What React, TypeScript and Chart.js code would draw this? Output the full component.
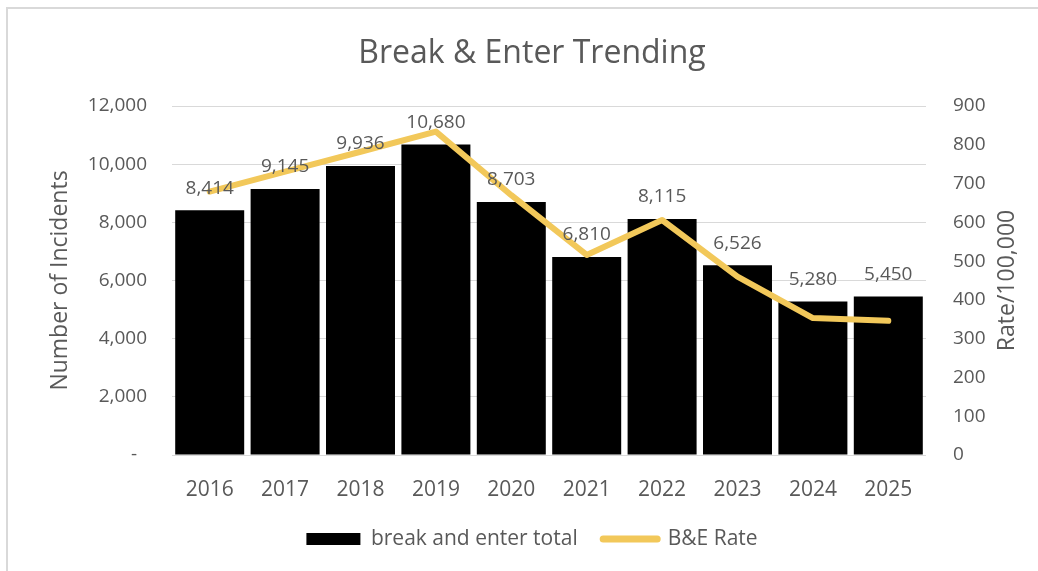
import { useEffect, useRef } from 'react';
import { Chart, registerables } from 'chart.js';

Chart.register(...registerables);

const years = ['2016', '2017', '2018', '2019', '2020', '2021', '2022', '2023', '2024', '2025'];
const incidents = [8414, 9145, 9936, 10680, 8703, 6810, 8115, 6526, 5280, 5450];
const rates = [679, 731, 782, 834, 670, 516, 606, 460, 353, 346];

const chartTitle = 'Break & Enter Trending';
const leftTitle = 'Number of Incidents';
const rightTitle = 'Rate/100,000';
const barLabel = 'break and enter total';
const lineLabel = 'B&E Rate';

const FONT = "'Open Sans', sans-serif";
const TEXT = '#595959';
const GOLD = '#F2C85A';
const GRID = '#d9d9d9';

const fmt = (v: number) => v.toLocaleString('en-US');

const framePlugin = {
  id: 'frame',
  beforeDraw(chart: any) {
    const ctx = chart.ctx;
    ctx.save();
    ctx.fillStyle = '#ffffff';
    ctx.fillRect(0, 0, chart.width, chart.height);
    ctx.strokeStyle = GRID;
    ctx.lineWidth = 2;
    ctx.beginPath();
    ctx.moveTo(7, chart.height);
    ctx.lineTo(7, 8);
    ctx.lineTo(chart.width, 8);
    ctx.stroke();
    ctx.restore();
  },
};

const labelsPlugin = {
  id: 'barLabels',
  afterDatasetsDraw(chart: any) {
    const ctx = chart.ctx;
    const meta = chart.getDatasetMeta(0);
    ctx.save();
    ctx.font = `19px ${FONT}`;
    ctx.fillStyle = TEXT;
    ctx.textAlign = 'center';
    ctx.textBaseline = 'middle';
    meta.data.forEach((el: any, i: number) => {
      ctx.fillText(fmt(incidents[i]), el.x, el.y - 22);
    });
    ctx.restore();
  },
};

const rightTitlePlugin = {
  id: 'rightTitle',
  afterDraw(chart: any) {
    const ctx = chart.ctx;
    const area = chart.chartArea;
    ctx.save();
    ctx.translate(1007, (area.top + area.bottom) / 2);
    ctx.rotate(-Math.PI / 2);
    ctx.font = `23px ${FONT}`;
    ctx.fillStyle = TEXT;
    ctx.textAlign = 'center';
    ctx.textBaseline = 'middle';
    ctx.fillText(rightTitle, 0, 0);
    ctx.restore();
  },
};

export default function App() {
  const ref = useRef<HTMLCanvasElement | null>(null);

  useEffect(() => {
    if (!ref.current) return;
    const chart = new Chart(ref.current, {
      type: 'bar',
      data: {
        labels: years,
        datasets: [
          {
            type: 'bar',
            label: barLabel,
            data: incidents,
            backgroundColor: '#000000',
            borderWidth: 0,
            barPercentage: 0.915,
            categoryPercentage: 1,
            yAxisID: 'y',
            order: 2,
          },
          {
            type: 'line',
            label: lineLabel,
            data: rates,
            borderColor: GOLD,
            backgroundColor: GOLD,
            borderWidth: 6,
            borderCapStyle: 'round',
            borderJoinStyle: 'round',
            pointRadius: 0,
            tension: 0,
            yAxisID: 'y1',
            order: 1,
          },
        ],
      } as any,
      options: {
        responsive: false,
        animation: false,
        layout: { padding: { left: 30, right: 4, top: 0, bottom: 11.5 } },
        plugins: {
          title: {
            display: true,
            text: chartTitle,
            color: TEXT,
            font: { family: FONT, size: 32, weight: 'normal' },
            padding: { top: 35, bottom: 32.6 },
          },
          legend: {
            position: 'bottom',
            labels: {
              usePointStyle: true,
              pointStyleWidth: 54,
              boxHeight: 12,
              padding: 25.5,
              color: TEXT,
              font: { family: FONT, size: 21 },
              sort: (a: any, b: any) => a.datasetIndex - b.datasetIndex,
              generateLabels: (c: any) => {
                const items = (Chart as any).defaults.plugins.legend.labels.generateLabels(c);
                items.forEach((it: any) => {
                  if (it.datasetIndex === 0) {
                    it.pointStyle = 'rect';
                    it.lineWidth = 0;
                    it.fillStyle = '#000000';
                  } else {
                    it.pointStyle = 'line';
                    it.lineWidth = 7;
                    it.lineCap = 'round';
                    it.strokeStyle = GOLD;
                  }
                });
                return items;
              },
            },
          },
          tooltip: { enabled: false },
        },
        scales: {
          x: {
            grid: { display: false },
            border: { display: false },
            ticks: { color: TEXT, font: { family: FONT, size: 21 }, padding: 14 },
            afterFit: (s: any) => {
              s.height = 48;
            },
          },
          y: {
            position: 'left',
            min: 0,
            max: 12000,
            ticks: {
              stepSize: 2000,
              padding: 25,
              color: TEXT,
              font: { family: FONT, size: 19 },
              callback: (v: any) => (Number(v) === 0 ? '-  ' : fmt(Number(v))),
            },
            grid: { color: GRID, lineWidth: 1, drawTicks: false },
            border: { display: false },
            title: {
              display: true,
              text: leftTitle,
              color: TEXT,
              font: { family: FONT, size: 23 },
              padding: 17,
            },
            afterFit: (s: any) => {
              s.width = 142;
            },
          },
          y1: {
            position: 'right',
            min: 0,
            max: 900,
            ticks: {
              stepSize: 100,
              padding: 19,
              color: TEXT,
              font: { family: FONT, size: 19 },
            },
            grid: { display: false },
            border: { display: false },
            afterFit: (s: any) => {
              s.width = 108;
            },
          },
        },
      } as any,
      plugins: [framePlugin, labelsPlugin, rightTitlePlugin],
    });
    return () => chart.destroy();
  }, []);

  return (
    <div style={{ position: 'fixed', left: 0, top: 0, width: 1038, height: 571 }}>
      <canvas ref={ref} width={1038} height={571} />
    </div>
  );
}
